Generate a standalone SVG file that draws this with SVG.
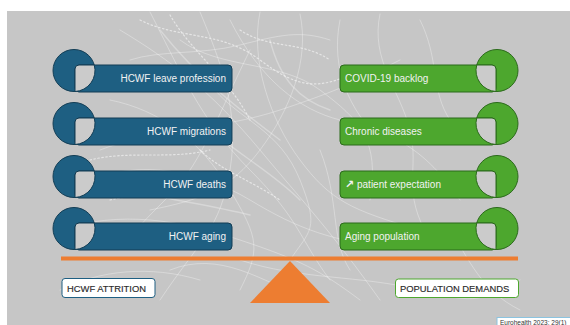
<svg xmlns="http://www.w3.org/2000/svg" width="570" height="325" viewBox="0 0 570 325">
  <style>
    .lbl { font-family: "Liberation Sans", Arial, sans-serif; font-size: 10px; fill: #f2f2f2; }
    .blue .shape { fill: #1e5f82; stroke: #123d55; stroke-width: 1; }
    .green .shape { fill: #4da72e; stroke: #2b6a1b; stroke-width: 1; }
    .hole { fill: #cbcbcb; stroke-width: 1; }
    .blue .hole { stroke: #123d55; }
    .green .hole { stroke: #2b6a1b; }
    .tag { fill: #ffffff; stroke-width: 1; }
    .tagtxt { font-family: "Liberation Sans", Arial, sans-serif; font-size: 9.4px; fill: #2a2a2a; stroke: #2a2a2a; stroke-width: 0.15; }
    .fibre { fill: none; stroke: #ffffff; stroke-linecap: round; }
  </style>

  <!-- page and grey backdrop -->
  <rect x="0" y="0" width="570" height="325" fill="#ffffff"/>
  <rect x="7" y="11" width="563" height="314" fill="#c6c6c6"/>

  <!-- faint fibre texture behind the content -->
  <g class="fibre" stroke-opacity="0.45" stroke-width="0.7">
    <path d="M120 30 C170 60 210 90 260 150 S330 230 380 300"/>
    <path d="M150 12 C180 70 200 120 250 170 S300 240 330 280"/>
    <path d="M200 12 C220 60 240 110 230 170 S200 240 160 300"/>
    <path d="M230 20 C260 80 300 110 340 120 S420 140 460 200"/>
    <path d="M90 180 C140 160 200 170 250 200 S330 240 400 250"/>
    <path d="M60 230 C120 210 180 220 240 240 S320 270 360 300"/>
    <path d="M260 12 C250 60 270 120 300 160 S350 210 420 230"/>
    <path d="M300 14 C310 60 290 110 260 150 S200 200 150 210"/>
    <path d="M340 20 C330 70 350 110 380 140"/>
    <path d="M380 14 C370 60 400 90 410 130 S400 190 430 240"/>
    <path d="M420 20 C440 60 430 90 450 120"/>
    <path d="M110 100 C160 110 200 140 230 190 S260 250 240 290"/>
    <path d="M180 40 C220 70 280 60 320 90 S380 140 370 200"/>
    <path d="M100 150 C150 130 220 130 280 110 S360 80 400 60"/>
    <path d="M240 260 C300 280 360 275 420 290 S480 300 520 280"/>
    <path d="M170 270 C220 250 260 280 310 300"/>
    <path d="M60 290 C100 270 150 265 200 280"/>
    <path d="M450 230 C470 260 480 290 520 310"/>
    <path d="M320 150 C340 200 330 240 350 270"/>
    <path d="M130 60 C160 50 200 55 240 45 S300 30 330 40"/>
    <path d="M215 90 C240 120 280 130 300 180 S310 230 290 260"/>
    <path d="M250 50 C230 90 210 140 190 170 S150 210 120 250"/>
  </g>
  <g class="fibre" stroke-opacity="0.55" stroke-width="1.2" stroke-dasharray="1.5 2.5">
    <path d="M140 20 C180 40 220 30 260 60 S320 90 360 70"/>
    <path d="M170 15 C190 50 230 80 250 120"/>
    <path d="M110 200 C150 190 190 200 230 190"/>
    <path d="M90 160 C130 150 170 160 210 150"/>
    <path d="M240 30 C270 50 300 40 330 60"/>
    <path d="M200 150 C220 170 250 180 280 200"/>
  </g>
  <g class="fibre" stroke-opacity="0.3" stroke-width="1.4">
    <path d="M160 30 C200 80 240 110 280 140"/>
    <path d="M200 120 C230 150 270 170 300 200"/>
    <path d="M130 190 C170 200 210 205 250 215"/>
    <path d="M270 40 C280 80 300 100 330 110"/>
  </g>

  <!-- workforce side (blue) -->
  <g id="node-leave-profession" class="blue" transform="translate(0,65)">
    <circle class="shape" cx="74" cy="5.5" r="21"/>
    <rect class="shape" x="75" y="0" width="157" height="27" rx="4"/>
    <path class="hole" d="M75 4 a4 4 0 0 1 4 -4 H94.27 A21 21 0 0 1 75 26.5 Z"/>
    <text class="lbl" x="226" y="16.5" text-anchor="end">HCWF leave profession</text>
  </g>
  <g id="node-migrations" class="blue" transform="translate(0,118)">
    <circle class="shape" cx="74" cy="5.5" r="21"/>
    <rect class="shape" x="75" y="0" width="157" height="27" rx="4"/>
    <path class="hole" d="M75 4 a4 4 0 0 1 4 -4 H94.27 A21 21 0 0 1 75 26.5 Z"/>
    <text class="lbl" x="226" y="16.5" text-anchor="end">HCWF migrations</text>
  </g>
  <g id="node-deaths" class="blue" transform="translate(0,171)">
    <circle class="shape" cx="74" cy="5.5" r="21"/>
    <rect class="shape" x="75" y="0" width="157" height="27" rx="4"/>
    <path class="hole" d="M75 4 a4 4 0 0 1 4 -4 H94.27 A21 21 0 0 1 75 26.5 Z"/>
    <text class="lbl" x="226" y="16.5" text-anchor="end">HCWF deaths</text>
  </g>
  <g id="node-aging" class="blue" transform="translate(0,223)">
    <circle class="shape" cx="74" cy="5.5" r="21"/>
    <rect class="shape" x="75" y="0" width="157" height="27" rx="4"/>
    <path class="hole" d="M75 4 a4 4 0 0 1 4 -4 H94.27 A21 21 0 0 1 75 26.5 Z"/>
    <text class="lbl" x="226" y="16.5" text-anchor="end">HCWF aging</text>
  </g>

  <!-- demand side (green) -->
  <g id="node-covid-backlog" class="green" transform="translate(0,65)">
    <circle class="shape" cx="497" cy="5.5" r="21"/>
    <rect class="shape" x="340" y="0" width="156" height="27" rx="4"/>
    <path class="hole" d="M496 4 a4 4 0 0 0 -4 -4 H476.73 A21 21 0 0 0 496 26.5 Z"/>
    <text class="lbl" x="345" y="16.5">COVID-19 backlog</text>
  </g>
  <g id="node-chronic-diseases" class="green" transform="translate(0,118)">
    <circle class="shape" cx="497" cy="5.5" r="21"/>
    <rect class="shape" x="340" y="0" width="156" height="27" rx="4"/>
    <path class="hole" d="M496 4 a4 4 0 0 0 -4 -4 H476.73 A21 21 0 0 0 496 26.5 Z"/>
    <text class="lbl" x="345" y="16.5">Chronic diseases</text>
  </g>
  <g id="node-patient-expectation" class="green" transform="translate(0,171)">
    <circle class="shape" cx="497" cy="5.5" r="21"/>
    <rect class="shape" x="340" y="0" width="156" height="27" rx="4"/>
    <path class="hole" d="M496 4 a4 4 0 0 0 -4 -4 H476.73 A21 21 0 0 0 496 26.5 Z"/>
    <text class="lbl" x="345" y="17"><tspan font-family="'DejaVu Sans', sans-serif" font-weight="bold" font-size="11">↗</tspan> patient expectation</text>
  </g>
  <g id="node-aging-population" class="green" transform="translate(0,223)">
    <circle class="shape" cx="497" cy="5.5" r="21"/>
    <rect class="shape" x="340" y="0" width="156" height="27" rx="4"/>
    <path class="hole" d="M496 4 a4 4 0 0 0 -4 -4 H476.73 A21 21 0 0 0 496 26.5 Z"/>
    <text class="lbl" x="345" y="16.5">Aging population</text>
  </g>

  <!-- balance: beam and fulcrum -->
  <g id="balance">
    <rect x="61" y="256.5" width="457" height="4" fill="#ed7d31"/>
    <polygon points="290,261 250,303 330,303" fill="#ed7d31"/>
  </g>

  <!-- side captions -->
  <g id="tag-attrition">
    <rect class="tag" x="62" y="278.5" width="93" height="19" rx="3" stroke="#1e5f82"/>
    <text class="tagtxt" x="67" y="291.5">HCWF ATTRITION</text>
  </g>
  <g id="tag-demands">
    <rect class="tag" x="395.5" y="279" width="123" height="18.5" rx="3" stroke="#4da72e"/>
    <text class="tagtxt" x="400" y="291.8">POPULATION DEMANDS</text>
  </g>

  <!-- source note -->
  <g id="source">
    <rect x="497" y="317.5" width="80" height="12" fill="#ffffff" stroke="#8cc4e0" stroke-width="1"/>
    <text x="500" y="325" font-family="'Liberation Sans', Arial, sans-serif" font-size="6.5" fill="#333333">Eurohealth 2023; 29(1)</text>
  </g>
</svg>
